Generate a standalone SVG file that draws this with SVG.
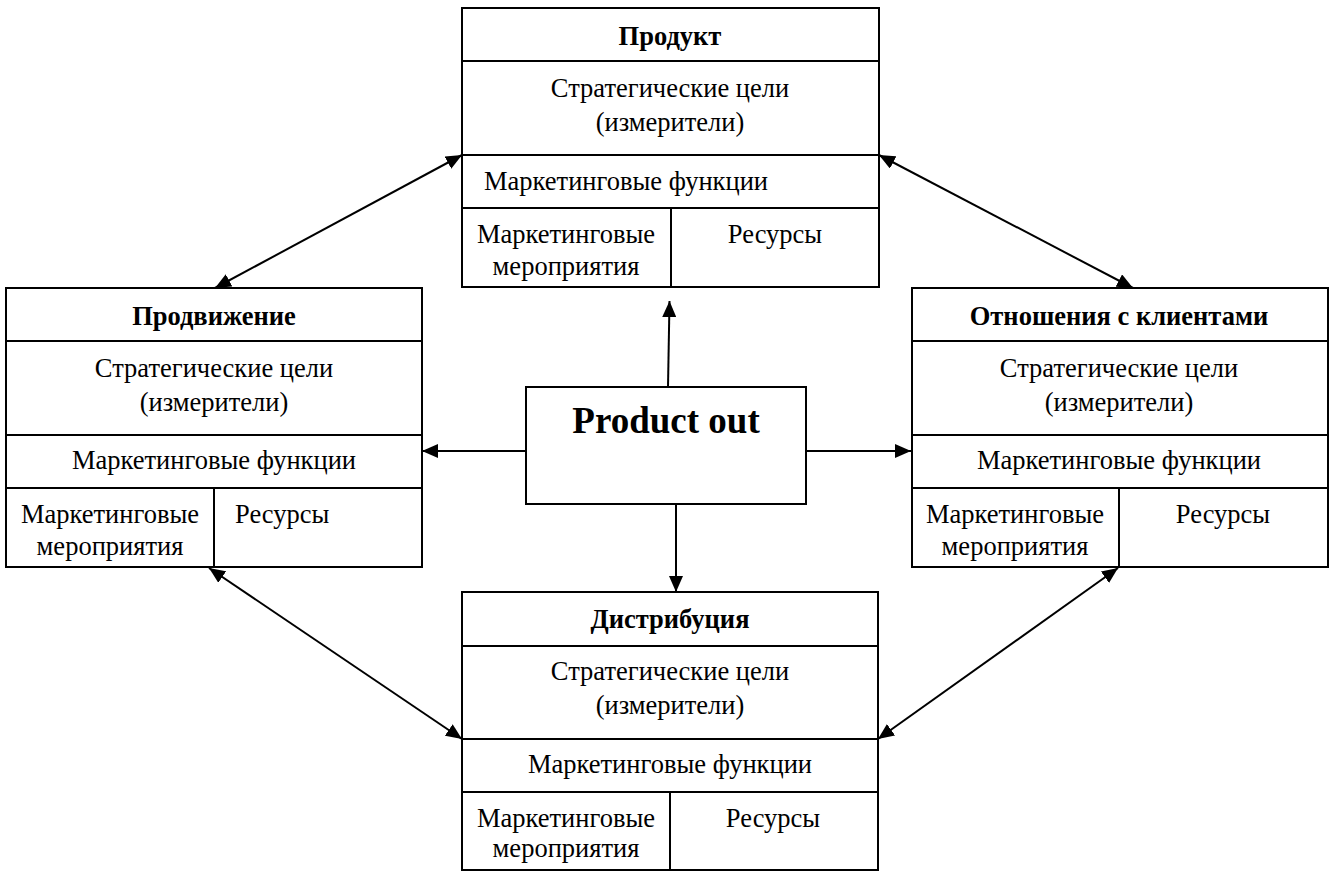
<svg xmlns="http://www.w3.org/2000/svg" width="1329" height="872" viewBox="0 0 1329 872">
  <style>
    .box { fill: #ffffff; stroke: #000000; stroke-width: 2; }
    .rule { stroke: #000000; stroke-width: 2; fill: none; }
    .t { font-family: "Liberation Serif", "Times New Roman", serif; font-size: 26.5px; fill: #000000; text-anchor: middle; }
    .title { font-weight: bold; }
    .start { text-anchor: start; }
    .big { font-family: "Liberation Serif", "Times New Roman", serif; font-size: 37px; font-weight: bold; fill: #000000; text-anchor: middle; }
    .conn { stroke: #000000; stroke-width: 2; fill: none; }
  </style>
  <defs>
    <marker id="head" viewBox="0 0 16 14" refX="16" refY="7" markerWidth="16" markerHeight="14" markerUnits="userSpaceOnUse" orient="auto-start-reverse">
      <path d="M0,0 L16,7 L0,14 z" fill="#000000"/>
    </marker>
  </defs>

  <rect width="1329" height="872" fill="#ffffff"/>

  <!-- Product -->
  <g id="node-product">
    <rect class="box" x="462" y="8" width="417" height="279"/>
    <line class="rule" x1="462" y1="61" x2="879" y2="61"/>
    <line class="rule" x1="462" y1="155" x2="879" y2="155"/>
    <line class="rule" x1="462" y1="208" x2="879" y2="208"/>
    <line class="rule" x1="671" y1="208" x2="671" y2="287"/>
    <text class="t title" x="670" y="45">Продукт</text>
    <text class="t" x="670" y="97">Стратегические цели</text>
    <text class="t" x="670" y="131">(измерители)</text>
    <text class="t start" x="484" y="190">Маркетинговые функции</text>
    <text class="t" x="566" y="243">Маркетинговые</text>
    <text class="t" x="566" y="275">мероприятия</text>
    <text class="t" x="775" y="243">Ресурсы</text>
  </g>

  <!-- Promotion -->
  <g id="node-promotion">
    <rect class="box" x="6" y="288" width="416" height="279"/>
    <line class="rule" x1="6" y1="341" x2="422" y2="341"/>
    <line class="rule" x1="6" y1="435" x2="422" y2="435"/>
    <line class="rule" x1="6" y1="488" x2="422" y2="488"/>
    <line class="rule" x1="214" y1="488" x2="214" y2="567"/>
    <text class="t title" x="214" y="325">Продвижение</text>
    <text class="t" x="214" y="377">Стратегические цели</text>
    <text class="t" x="214" y="411">(измерители)</text>
    <text class="t" x="214" y="469">Маркетинговые функции</text>
    <text class="t" x="110" y="523">Маркетинговые</text>
    <text class="t" x="110" y="555">мероприятия</text>
    <text class="t start" x="235" y="523">Ресурсы</text>
  </g>

  <!-- Customer relations -->
  <g id="node-relations">
    <rect class="box" x="912" y="288" width="416" height="279"/>
    <line class="rule" x1="912" y1="341" x2="1328" y2="341"/>
    <line class="rule" x1="912" y1="435" x2="1328" y2="435"/>
    <line class="rule" x1="912" y1="488" x2="1328" y2="488"/>
    <line class="rule" x1="1119" y1="488" x2="1119" y2="567"/>
    <text class="t title" x="1119" y="325">Отношения с клиентами</text>
    <text class="t" x="1119" y="377">Стратегические цели</text>
    <text class="t" x="1119" y="411">(измерители)</text>
    <text class="t" x="1119" y="469">Маркетинговые функции</text>
    <text class="t" x="1015" y="523">Маркетинговые</text>
    <text class="t" x="1015" y="555">мероприятия</text>
    <text class="t" x="1223" y="523">Ресурсы</text>
  </g>

  <!-- Distribution -->
  <g id="node-distribution">
    <rect class="box" x="462" y="592" width="416" height="278"/>
    <line class="rule" x1="462" y1="646" x2="878" y2="646"/>
    <line class="rule" x1="462" y1="739" x2="878" y2="739"/>
    <line class="rule" x1="462" y1="792" x2="878" y2="792"/>
    <line class="rule" x1="670" y1="792" x2="670" y2="870"/>
    <text class="t title" x="670" y="628">Дистрибуция</text>
    <text class="t" x="670" y="680">Стратегические цели</text>
    <text class="t" x="670" y="714">(измерители)</text>
    <text class="t" x="670" y="773">Маркетинговые функции</text>
    <text class="t" x="566" y="827">Маркетинговые</text>
    <text class="t" x="566" y="857">мероприятия</text>
    <text class="t" x="773" y="827">Ресурсы</text>
  </g>

  <!-- Centre -->
  <g id="node-product-out">
    <rect class="box" x="526" y="387" width="280" height="117"/>
    <text class="big" x="666" y="433">Product out</text>
  </g>

  <g id="connectors">
    <line class="conn" x1="215" y1="288" x2="462" y2="155" marker-start="url(#head)" marker-end="url(#head)"/>
    <line class="conn" x1="1133" y1="288" x2="879" y2="155" marker-start="url(#head)" marker-end="url(#head)"/>
    <line class="conn" x1="209" y1="568" x2="462" y2="739" marker-start="url(#head)" marker-end="url(#head)"/>
    <line class="conn" x1="1118" y1="568" x2="878" y2="739" marker-start="url(#head)" marker-end="url(#head)"/>
    <line class="conn" x1="668" y1="387" x2="669.5" y2="301" marker-end="url(#head)"/>
    <line class="conn" x1="526" y1="451" x2="422" y2="451" marker-end="url(#head)"/>
    <line class="conn" x1="806" y1="451" x2="911" y2="451" marker-end="url(#head)"/>
    <line class="conn" x1="676" y1="504" x2="676" y2="592" marker-end="url(#head)"/>
  </g>
</svg>
